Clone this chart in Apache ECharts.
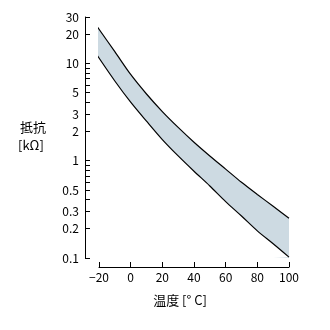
<!DOCTYPE html>
<html>
<head>
<meta charset="utf-8">
<script src="https://cdn.jsdelivr.net/npm/echarts@6/dist/echarts.min.js"></script>
<style>
html,body{margin:0;padding:0;background:#fff;}
#chart{width:330px;height:330px;}
</style>
</head>
<body>
<div id="chart"></div>
<script>
// Temperature (°C)
var temps = [-22, -10, 0, 10, 20, 30, 40, 50, 60, 70, 80, 90, 100];
// Upper boundary of resistance band (kΩ)
var upperR = [25, 13.2, 7.7, 4.85, 3.2, 2.2, 1.55, 1.12, 0.82, 0.6, 0.45, 0.34, 0.256];
// Lower boundary of resistance band (kΩ)
var lowerR = [12.7, 6.6, 4.0, 2.55, 1.65, 1.12, 0.78, 0.55, 0.38, 0.27, 0.19, 0.14, 0.102];
// Y axis ticks and labels
var yTickValues = [0.1,0.2,0.3,0.4,0.5,0.6,0.7,0.8,0.9,1,2,3,4,5,6,7,8,9,10,20,30];
var yLabelValues = [0.1,0.2,0.3,0.5,1,2,3,5,10,20,30];
var yLabelTexts = ['0.1','0.2','0.3','0.5','1','2','3','5','10','20','30'];

var font = '"Liberation Sans Narrow", "Noto Sans CJK JP", sans-serif';
var chart = echarts.init(document.getElementById('chart'), null, {renderer:'canvas'});

var upperData = temps.map(function(t,i){ return [t, upperR[i]]; });
var lowerData = temps.map(function(t,i){ return [t, lowerR[i]]; });

chart.setOption({
  animation: false,
  backgroundColor: '#fff',
  grid: {left: 99, right: 41, top: 17, bottom: 72, containLabel: false},
  xAxis: {
    type: 'value', min: -20, max: 100, interval: 20, offset: 9,
    axisLine: {onZero: false, lineStyle: {color: '#000', width: 1}},
    axisTick: {inside: true, length: 5, lineStyle: {color: '#000'}},
    splitLine: {show: false},
    axisLabel: {
      color: '#000', fontSize: 12, margin: 4, fontFamily: font,
      formatter: function(v){ return v < 0 ? '\u2212' + (-v) : String(v); }
    }
  },
  yAxis: {
    type: 'log', logBase: 10, min: 0.1, max: 30, offset: 14,
    axisLine: {onZero: false, lineStyle: {color: '#000', width: 1}},
    axisTick: {inside: true, length: 5, customValues: yTickValues, lineStyle: {color: '#000'}},
    minorTick: {show: false},
    splitLine: {show: false},
    axisLabel: {
      color: '#000', fontSize: 12, margin: 6, fontFamily: font,
      customValues: yLabelValues,
      formatter: function(v){
        for (var i = 0; i < yLabelValues.length; i++) {
          if (Math.abs(v - yLabelValues[i]) < 1e-6 * yLabelValues[i]) return yLabelTexts[i];
        }
        return '';
      }
    }
  },
  graphic: [
    {type: 'text', left: 20, top: 121, style: {text: '抵抗', fill: '#000', font: '13px "Noto Sans CJK JP", sans-serif'}},
    {type: 'text', left: 18, top: 139, style: {text: '[kΩ]', fill: '#000', font: '13px "Noto Sans CJK JP", sans-serif'}},
    {type: 'text', x: 180, y: 300, style: {text: '温度 [° C]', fill: '#000', align: 'center', verticalAlign: 'middle', font: '13px "Noto Sans CJK JP", sans-serif'}}
  ],
  series: [
    {
      name: 'upper', type: 'line', data: upperData, smooth: 0.3, showSymbol: false, clip: false, z: 2,
      lineStyle: {color: '#000', width: 1.2},
      areaStyle: {color: '#cddae2', opacity: 1, origin: 'start'}
    },
    {
      name: 'lower', type: 'line', data: lowerData, smooth: 0.3, showSymbol: false, clip: false, z: 3,
      lineStyle: {color: '#000', width: 1.2},
      areaStyle: {color: '#ffffff', opacity: 1, origin: 'start'}
    }
  ]
});
</script>
</body>
</html>
